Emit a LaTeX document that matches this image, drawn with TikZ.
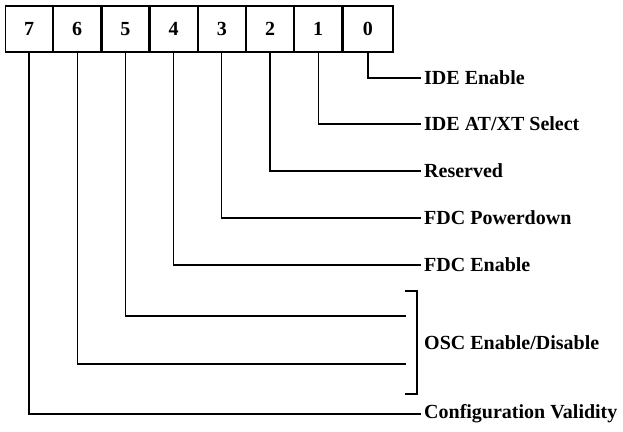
\documentclass[tikz,border=0pt]{standalone}
\usepackage{fontspec}
\setmainfont{Liberation Serif}
\usetikzlibrary{positioning}

\begin{document}
\begin{tikzpicture}[x=1pt, y=-1pt, font=\fontsize{20}{22}\selectfont\bfseries, bit/.style={draw, line width=1.2pt, minimum width=47pt, minimum height=46pt, inner sep=0pt}, lbl/.style={anchor=west, inner sep=3pt}, wire/.style={line width=1.2pt}]
\useasboundingbox (0,0) rectangle (623,431);
\node[bit] (b7) at (29,29) {7};
\node[bit, right=0pt of b7] (b6) {6};
\node[bit, right=0pt of b6] (b5) {5};
\node[bit, right=0pt of b5] (b4) {4};
\node[bit, right=0pt of b4] (b3) {3};
\node[bit, right=0pt of b3] (b2) {2};
\node[bit, right=0pt of b2] (b1) {1};
\node[bit, right=0pt of b1, minimum width=50pt] (b0) {0};
% field names
\node[lbl] (ide) at (421,78) {IDE Enable};
\node[lbl] (atxt) at (421,124) {IDE AT/XT Select};
\node[lbl] (resv) at (421,171) {Reserved};
\node[lbl] (fdcpd) at (421,218) {FDC Powerdown};
\node[lbl] (fdcen) at (421,265) {FDC Enable};
\node[lbl] (osc) at (421,343) {OSC Enable/Disable};
\node[lbl] (valid) at (421,414) {Configuration Validity};
\coordinate (o5) at (406,316);
\coordinate (o6) at (406,364);
\coordinate (brt) at (405,291);
\coordinate (brb) at (405,394);
\draw[wire] (b0.south) |- (ide.west);
\draw[wire] (b1.south) |- (atxt.west);
\draw[wire] (b2.south) |- (resv.west);
\draw[wire] (b3.south) |- (fdcpd.west);
\draw[wire] (b4.south) |- (fdcen.west);
\draw[wire] (b5.south) |- (o5);
\draw[wire] (b6.south) |- (o6);
\draw[wire] (b7.south) |- (valid.west);
% bracket
\draw[wire] (brt) -- ++(12,0) |- (brb);
\end{tikzpicture}
\end{document}
